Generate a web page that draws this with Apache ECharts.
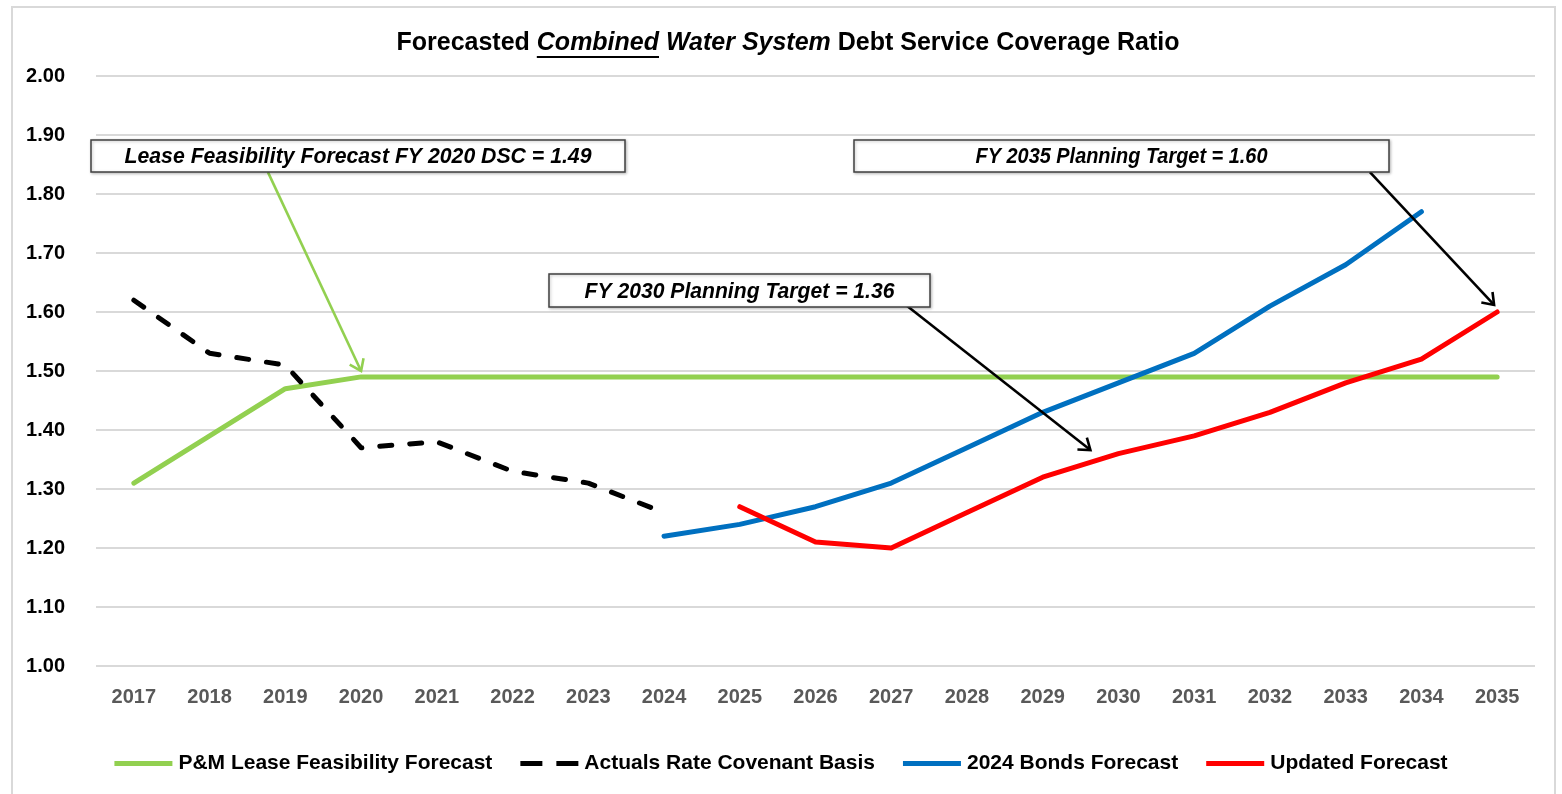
<!DOCTYPE html>
<html>
<head>
<meta charset="utf-8">
<script src="https://cdn.jsdelivr.net/npm/echarts@6/dist/echarts.min.js"></script>
<style>
  html, body { margin: 0; padding: 0; background: #ffffff; }
  #chart { width: 1562px; height: 794px; }
</style>
</head>
<body>
<div id="chart"></div>
<script>
// Fiscal years on the category axis
const years = ['2017','2018','2019','2020','2021','2022','2023','2024','2025','2026',
               '2027','2028','2029','2030','2031','2032','2033','2034','2035'];

// Debt service coverage ratio by series (null = no value for that year)
const leaseFeasibility = [1.31, 1.39, 1.47, 1.49, 1.49, 1.49, 1.49, 1.49, 1.49, 1.49,
                          1.49, 1.49, 1.49, 1.49, 1.49, 1.49, 1.49, 1.49, 1.49];
const actualsCovenant  = [1.62, 1.53, 1.51, 1.37, 1.38, 1.33, 1.31, 1.26, null, null,
                          null, null, null, null, null, null, null, null, null];
const bonds2024        = [null, null, null, null, null, null, null, 1.22, 1.24, 1.27,
                          1.31, 1.37, 1.43, 1.48, 1.53, 1.61, 1.68, 1.77, null];
const updatedForecast  = [null, null, null, null, null, null, null, null, 1.27, 1.21,
                          1.20, 1.26, 1.32, 1.36, 1.39, 1.43, 1.48, 1.52, 1.60];

// Series names as shown in the legend
const seriesNames = ['P&M Lease Feasibility Forecast', 'Actuals Rate Covenant Basis',
                     '2024 Bonds Forecast', 'Updated Forecast'];

// Y axis range and step
const yMin = 1.0, yMax = 2.0, yStep = 0.1;

// Callout arrows: [start, end] in (year index, ratio) space
const calloutArrows = [
  { from: [1.77, 1.837],  to: [3.0, 1.50],    color: '#92d050' },
  { from: [10.21, 1.61],  to: [12.63, 1.366], color: '#000000' },
  { from: [16.32, 1.837], to: [17.96, 1.612], color: '#000000' }
];

// Callout box texts
const calloutTexts = [
  'Lease Feasibility Forecast FY 2020 DSC = 1.49',
  'FY 2035 Planning Target = 1.60',
  'FY 2030 Planning Target = 1.36'
];

const SANS = '"Liberation Sans", Arial, sans-serif';

// Legend swatches: solid bar, and a two-dash bar for the dashed series
const solidIcon = 'path://M0,0 H58 V5 H0 Z';
const dashIcon = 'path://M0,0 H22 V5 H0 Z M36,0 H58 V5 H36 Z';

const chart = echarts.init(document.getElementById('chart'), null, { renderer: 'canvas' });

// Text measurement, used to squeeze regular-width glyphs into a narrow look
const mc = document.createElement('canvas').getContext('2d');
function measure(txt, font) { mc.font = font; return mc.measureText(txt).width; }

// Title pieces (underline beneath "Combined")
const titleSize = 25;
const tPieces = [
  ['Forecasted ', 'bold'],
  ['Combined', 'italic bold'],
  [' ', 'bold'],
  ['Water System', 'italic bold'],
  [' Debt Service Coverage Ratio', 'bold']
];
const tWidths = tPieces.map(p => measure(p[0], p[1] + ' ' + titleSize + 'px ' + SANS));
const tTotal = tWidths.reduce((a, b) => a + b, 0);
const titleTargetW = 783;
const tScale = titleTargetW / tTotal;
const titleCx = 788, titleY = 43;
const titleX0 = titleCx - titleTargetW / 2;
const ulX0 = titleX0 + tWidths[0] * tScale;
const ulX1 = ulX0 + tWidths[1] * tScale;

function box(id, x, y, w, h, txt, fontSize, textW) {
  const font = 'italic bold ' + fontSize + 'px ' + SANS;
  const sx = textW / measure(txt, font);
  return {
    type: 'group', id: id,
    children: [
      {
        type: 'rect',
        shape: { x: x, y: y, width: w, height: h },
        style: { fill: '#ffffff', stroke: '#404040', lineWidth: 1.5,
                 shadowBlur: 3, shadowOffsetX: 1, shadowOffsetY: 1, shadowColor: 'rgba(0,0,0,0.25)' },
        z: 10
      },
      {
        type: 'text',
        x: x + w / 2, y: y + h / 2 + 1,
        scaleX: sx,
        style: { text: txt, fill: '#000000', font: font,
                 align: 'center', verticalAlign: 'middle' },
        z: 11
      }
    ]
  };
}

const option = {
  animation: false,
  backgroundColor: '#ffffff',
  grid: { left: 96, right: 27, top: 76, bottom: 128, containLabel: false },
  xAxis: [
    {
      type: 'category',
      data: years,
      boundaryGap: true,
      axisLine: { show: false },
      axisTick: { show: false },
      axisLabel: { color: '#595959', fontFamily: SANS, fontWeight: 'bold', fontSize: 20, margin: 21 }
    },
    {
      type: 'value', min: -0.5, max: 18.5, show: false
    }
  ],
  yAxis: {
    type: 'value',
    min: yMin, max: yMax, interval: yStep,
    axisLine: { show: false },
    axisTick: { show: false },
    splitLine: { lineStyle: { color: '#d9d9d9', width: 2 } },
    axisLabel: { color: '#000000', fontFamily: SANS, fontWeight: 'bold', fontSize: 20, margin: 31,
                 formatter: v => v.toFixed(2) }
  },
  legend: {
    bottom: 15,
    left: 'center',
    itemWidth: 58,
    itemHeight: 5,
    itemGap: 28,
    textStyle: { color: '#000000', fontFamily: SANS, fontWeight: 'bold', fontSize: 21, padding: [0, 0, 0, 1] },
    data: [
      { name: seriesNames[0], icon: solidIcon },
      { name: seriesNames[1], icon: dashIcon },
      { name: seriesNames[2], icon: solidIcon },
      { name: seriesNames[3], icon: solidIcon }
    ]
  },
  series: [
    {
      name: seriesNames[0], type: 'line', data: leaseFeasibility,
      showSymbol: false, symbol: 'none', z: 3,
      lineStyle: { color: '#92d050', width: 5, cap: 'round', join: 'round' },
      itemStyle: { color: '#92d050' }
    },
    {
      name: seriesNames[1], type: 'line', data: actualsCovenant,
      showSymbol: false, symbol: 'none', z: 4,
      lineStyle: { color: '#000000', width: 5, type: [12, 18], cap: 'round', join: 'round' },
      itemStyle: { color: '#000000' }
    },
    {
      name: seriesNames[2], type: 'line', data: bonds2024,
      showSymbol: false, symbol: 'none', z: 3,
      lineStyle: { color: '#0070c0', width: 5, cap: 'round', join: 'round' },
      itemStyle: { color: '#0070c0' }
    },
    {
      name: seriesNames[3], type: 'line', data: updatedForecast,
      showSymbol: false, symbol: 'none', z: 4,
      lineStyle: { color: '#ff0000', width: 5, cap: 'round', join: 'round' },
      itemStyle: { color: '#ff0000' }
    }
  ],
  graphic: [
    // outer frame
    {
      type: 'rect', id: 'frame', shape: { x: 12, y: 7, width: 1543, height: 820 },
      style: { fill: 'none', stroke: '#d9d9d9', lineWidth: 2 }, silent: true, z: 0
    },
    // title
    {
      type: 'text', id: 'title', x: titleX0, y: titleY, scaleX: tScale,
      style: {
        text: '{a|Forecasted }{b|Combined}{a| }{b|Water System}{a| Debt Service Coverage Ratio}',
        verticalAlign: 'middle',
        rich: {
          a: { fontFamily: SANS, fontWeight: 'bold', fontSize: titleSize, fill: '#000000' },
          b: { fontFamily: SANS, fontWeight: 'bold', fontStyle: 'italic', fontSize: titleSize, fill: '#000000' }
        }
      },
      z: 10
    },
    {
      type: 'line', id: 'titleUnderline', shape: { x1: ulX0, y1: titleY + 14, x2: ulX1, y2: titleY + 14 },
      style: { stroke: '#000000', lineWidth: 2 }, z: 10
    },
    box('box1', 91, 140, 534, 32, calloutTexts[0], 22, 467),
    box('box2', 854, 140, 535, 32, calloutTexts[1], 22, 292),
    box('box3', 549, 274, 381, 33, calloutTexts[2], 22, 310)
  ]
};

chart.setOption(option);

// Callout arrows: endpoints come from data space via the axes
const arrowEls = [];
calloutArrows.forEach((a, i) => {
  const p0 = chart.convertToPixel({ xAxisIndex: 1, yAxisIndex: 0 }, a.from);
  const p1 = chart.convertToPixel({ xAxisIndex: 1, yAxisIndex: 0 }, a.to);
  const ang = Math.atan2(p1[1] - p0[1], p1[0] - p0[0]);
  const headLen = 13, spread = Math.PI / 5;
  const h1 = [p1[0] - headLen * Math.cos(ang - spread), p1[1] - headLen * Math.sin(ang - spread)];
  const h2 = [p1[0] - headLen * Math.cos(ang + spread), p1[1] - headLen * Math.sin(ang + spread)];
  arrowEls.push({
    type: 'line', id: 'arrowShaft' + i,
    shape: { x1: p0[0], y1: p0[1], x2: p1[0], y2: p1[1] },
    style: { stroke: a.color, lineWidth: 2.6 }, z: 9, silent: true
  });
  arrowEls.push({
    type: 'polyline', id: 'arrowHead' + i,
    shape: { points: [h1, p1, h2] },
    style: { stroke: a.color, lineWidth: 2.6, fill: null, lineJoin: 'miter' }, z: 9, silent: true
  });
});
chart.setOption({ graphic: arrowEls });
</script>
</body>
</html>
